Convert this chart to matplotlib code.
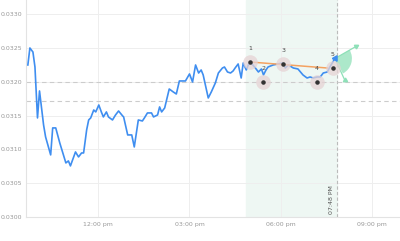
import matplotlib.pyplot as plt
import matplotlib.patches as mpatches
import matplotlib.transforms as mtransforms
import numpy as np

# price series (time, value)
times = ["09:41", "09:45", "09:51", "09:55", "10:00", "10:04", "10:12", "10:16", "10:26", "10:30",
         "10:36", "10:44", "10:56", "11:01", "11:05", "11:15", "11:21", "11:27", "11:31", "11:37",
         "11:41", "11:45", "11:51", "11:55", "12:01", "12:06", "12:10", "12:16", "12:20", "12:28",
         "12:34", "12:40", "12:48", "12:50", "12:58", "13:06", "13:11", "13:19", "13:27", "13:31",
         "13:37", "13:45", "13:49", "13:57", "14:01", "14:05", "14:11", "14:20", "14:28", "14:34",
         "14:40", "14:52", "15:00", "15:06", "15:12", "15:18", "15:23", "15:27", "15:37", "15:43",
         "15:51", "15:57", "16:05", "16:09", "16:15", "16:21", "16:26", "16:30", "16:36", "16:42",
         "16:46", "16:52", "16:56", "17:00", "17:10", "17:16", "17:22", "17:26", "17:31", "17:35",
         "17:45", "17:55", "18:05", "18:09", "18:15", "18:25", "18:34", "18:44", "18:52", "18:58",
         "19:04", "19:12", "19:18", "19:24", "19:32", "19:37", "19:43", "19:47"]
values = [0.032249, 0.032501, 0.032441, 0.032219, 0.031464, 0.031864, 0.031360, 0.031182, 0.030916, 0.031316,
          0.031316, 0.031093, 0.030797, 0.030827, 0.030753, 0.030960, 0.030886, 0.030945, 0.030945, 0.031286,
          0.031434, 0.031464, 0.031582, 0.031553, 0.031656, 0.031553, 0.031479, 0.031553, 0.031479, 0.031434,
          0.031508, 0.031567, 0.031494, 0.031479, 0.031212, 0.031212, 0.031034, 0.031434, 0.031419, 0.031464,
          0.031538, 0.031538, 0.031479, 0.031508, 0.031627, 0.031553, 0.031612, 0.031893, 0.031849, 0.031819,
          0.032012, 0.032012, 0.032116, 0.031997, 0.032249, 0.032130, 0.032175, 0.032101, 0.031760, 0.031849,
          0.031982, 0.032130, 0.032204, 0.032219, 0.032145, 0.032130, 0.032160, 0.032204, 0.032264, 0.032056,
          0.032279, 0.032175, 0.032249, 0.032293, 0.032204, 0.032145, 0.032190, 0.032101, 0.032175, 0.032219,
          0.032249, 0.032264, 0.032279, 0.032204, 0.032249, 0.032204, 0.032190, 0.032101, 0.032056, 0.032071,
          0.032056, 0.032071, 0.032071, 0.032130, 0.032145, 0.032219, 0.032293, 0.032345]

# pattern points 1..5
pat_labels = ["1", "2", "3", "4", "5"]
pat_times = ["17:00", "17:26", "18:05", "19:11", "19:43"]
pat_values = [0.032293, 0.031997, 0.032267, 0.031997, 0.032204]

# upper trend line (orange)
trend_times = ["17:00", "19:32"]
trend_values = [0.032293, 0.032204]

# support levels (dashed)
levels = [0.03200, 0.031716]

shade_start = "16:51"
event_time = "19:51"
event_label = "07:48 PM"

yticks = [0.0300, 0.0305, 0.0310, 0.0315, 0.0320, 0.0325, 0.0330]
xticks = [12, 15, 18, 21]
xticklabels = ["12:00 pm", "03:00 pm", "06:00 pm", "09:00 pm"]


def hrs(t):
    h, m = t.split(":")
    return int(h) + int(m) / 60


x = np.array([hrs(t) for t in times])
px = [hrs(t) for t in pat_times]

fig = plt.figure(figsize=(4, 2.41), dpi=100)
ax = fig.add_axes([0.065, 0.1008, 0.935, 0.8992])

ax.set_xlim(9.622, 21.924)
ax.set_ylim(0.0300, 0.033212)

ax.axvspan(hrs(shade_start), hrs(event_time), color='#eef7f3', zorder=0)
ax.axvline(hrs(event_time), color='#bbbbbb', ls=(0, (3, 2)), lw=0.8, zorder=1)
for lv in levels:
    ax.axhline(lv, color='#cccccc', ls=(0, (4, 3)), lw=0.8, zorder=1)

ax.plot(x, values, color='#3f8ef0', lw=1.2, zorder=3)
ax.plot(x[-1], values[-1], marker=(3, 0, -30), color='#3f8ef0', ms=4.5, zorder=4)

ax.plot([hrs(t) for t in trend_times], trend_values, color='#f4a261', lw=1.1, zorder=3)

ax.scatter(px, pat_values, s=110, color='#e6d3d5', alpha=0.75, zorder=4, linewidths=0)
ax.scatter(px, pat_values, s=5, color='#333333', zorder=5)
for lab, t, v in zip(pat_labels, px, pat_values):
    ax.annotate(lab, (t, v), xytext=(0, 8), textcoords='offset points',
                ha='center', va='bottom', fontsize=4.5, color='#444444', zorder=6)

# projection wedge at the last point
tr = mtransforms.Affine2D() + mtransforms.ScaledTranslation(x[-1], values[-1], ax.transData)
ax.add_patch(mpatches.Wedge((0, 0), 17, -62, 30, color='#a3e6c5', alpha=0.9,
                            lw=0, transform=tr, zorder=2))
for dx, dy, rot in [(21, 12, -60), (10, -22, 0)]:
    ax.plot([0, dx], [0, dy], color='#8ee0b8', lw=0.9, transform=tr, zorder=2)
    ax.plot([dx], [dy], marker=(3, 0, rot), color='#8ee0b8', ms=3.5, transform=tr, zorder=2)

ax.annotate(event_label, (hrs(event_time), 0.0300), xytext=(-4, 2), textcoords='offset points',
            rotation=90, ha='center', va='bottom', fontsize=4.5, color='#555555')

ax.set_yticks(yticks)
ax.set_yticklabels([f"{v:.4f}" for v in yticks])
ax.set_xticks(xticks)
ax.set_xticklabels(xticklabels)
ax.tick_params(length=0, labelsize=4.5, colors='#999999')
ax.tick_params(axis='y', pad=2.5)
ax.tick_params(axis='x', pad=3.5)
ax.grid(True, color='#eeeeee', lw=0.7, zorder=0)
ax.set_axisbelow(True)
for s in ['top', 'right']:
    ax.spines[s].set_visible(False)
for s in ['left', 'bottom']:
    ax.spines[s].set_color('#e3e3e3')
    ax.spines[s].set_linewidth(0.8)

fig.savefig("out.png", dpi=100)
